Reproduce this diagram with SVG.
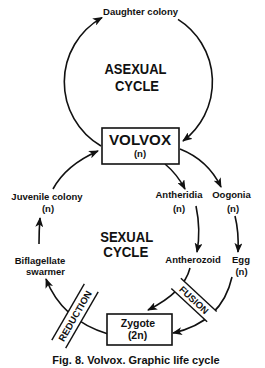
<svg xmlns="http://www.w3.org/2000/svg" width="265" height="368" viewBox="0 0 265 368">
<defs>
<style>
.t{font-family:"Liberation Sans",Arial,sans-serif;font-weight:bold;fill:#111;text-anchor:middle}
.s{font-size:9.5px}
.b{font-size:15px}
.c{fill:none;stroke:#111;stroke-width:1.6}
.box{fill:#fff;stroke:#111;stroke-width:1.6}
.bar{stroke:#111;stroke-width:1.4}
</style>
<marker id="ah" markerWidth="10" markerHeight="8" refX="9" refY="4" orient="auto" markerUnits="userSpaceOnUse">
<path d="M0,0 L10,4 L0,8 L2.5,4 z" fill="#111"/>
</marker>
</defs>
<rect width="265" height="368" fill="#fff"/>

<g id="connectors">
<path class="c" d="M101,146 A74 74 0 0 1 102,17.6" marker-end="url(#ah)"/>
<path class="c" d="M178,19.4 A74 74 0 0 1 183,141" marker-end="url(#ah)"/>
<path class="c" d="M53,189 Q66,165 98,151" marker-end="url(#ah)"/>
<path class="c" d="M39,244 Q39,230 40,218" marker-end="url(#ah)"/>
<path class="c" d="M165,164 Q177,174 185,189" marker-end="url(#ah)"/>
<path class="c" d="M180,149 Q208,160 221,187" marker-end="url(#ah)"/>
<path class="c" d="M196,206 Q201,230 197,252" marker-end="url(#ah)"/>
<path class="c" d="M235,216 Q239,232 238,252" marker-end="url(#ah)"/>
<path class="c" d="M190,268 Q184,292 148,310" marker-end="url(#ah)"/>
<path class="c" d="M232,277 Q222,322 173,333" marker-end="url(#ah)"/>
<path class="c" d="M108,334 Q62,320 46,279" marker-end="url(#ah)"/>
</g>

<g id="reduction" transform="translate(75,316) rotate(-60)">
<rect x="-32.5" y="-8" width="65" height="16" fill="#fff"/>
<line class="bar" x1="-32.5" y1="-8" x2="32.5" y2="-8"/>
<line class="bar" x1="-32.5" y1="8" x2="32.5" y2="8"/>
<text class="t s" x="0" y="3.4">REDUCTION</text>
</g>

<g id="fusion" transform="translate(194,300) rotate(43)">
<rect x="-24.5" y="-7" width="49" height="14" fill="#fff"/>
<line class="bar" x1="-24.5" y1="-7" x2="24.5" y2="-7"/>
<line class="bar" x1="-24.5" y1="7" x2="24.5" y2="7"/>
<text class="t s" x="0" y="3.4">FUSION</text>
</g>

<g id="daughter"><text class="t s" x="140.5" y="15">Daughter colony</text></g>
<g id="asexual-cycle">
<text class="t b" x="135.5" y="74" textLength="62" lengthAdjust="spacingAndGlyphs">ASEXUAL</text>
<text class="t b" x="137" y="90.5" textLength="44" lengthAdjust="spacingAndGlyphs">CYCLE</text>
</g>
<g id="volvox">
<rect class="box" x="102" y="128" width="77" height="36"/>
<text class="t" style="font-size:14px" x="140" y="145" textLength="62" lengthAdjust="spacingAndGlyphs">VOLVOX</text>
<text class="t s" x="140" y="157">(n)</text>
</g>
<g id="juvenile">
<text class="t s" x="47" y="200">Juvenile colony</text>
<text class="t s" x="48" y="212">(n)</text>
</g>
<g id="antheridia">
<text class="t s" x="179" y="198">Antheridia</text>
<text class="t s" x="179" y="212">(n)</text>
</g>
<g id="oogonia">
<text class="t s" x="231.5" y="198">Oogonia</text>
<text class="t s" x="233" y="212">(n)</text>
</g>
<g id="sexual-cycle">
<text class="t b" x="126.7" y="241.5" textLength="53" lengthAdjust="spacingAndGlyphs">SEXUAL</text>
<text class="t b" x="125.8" y="257" textLength="45" lengthAdjust="spacingAndGlyphs">CYCLE</text>
</g>
<g id="biflagellate">
<text class="t s" x="40" y="264">Biflagellate</text>
<text class="t s" x="45.5" y="275">swarmer</text>
</g>
<g id="antherozoid"><text class="t s" x="193" y="263">Antherozoid</text></g>
<g id="egg">
<text class="t s" x="241" y="263">Egg</text>
<text class="t s" x="241.5" y="275">(n)</text>
</g>
<g id="zygote">
<rect class="box" x="107" y="314" width="65" height="31"/>
<text class="t" style="font-size:10.5px" x="138" y="326.5">Zygote</text>
<text class="t" style="font-size:10.5px" x="137.5" y="339">(2n)</text>
</g>
<g id="caption"><text class="t" style="font-size:11px" x="136" y="364">Fig. 8. Volvox. Graphic life cycle</text></g>
</svg>
